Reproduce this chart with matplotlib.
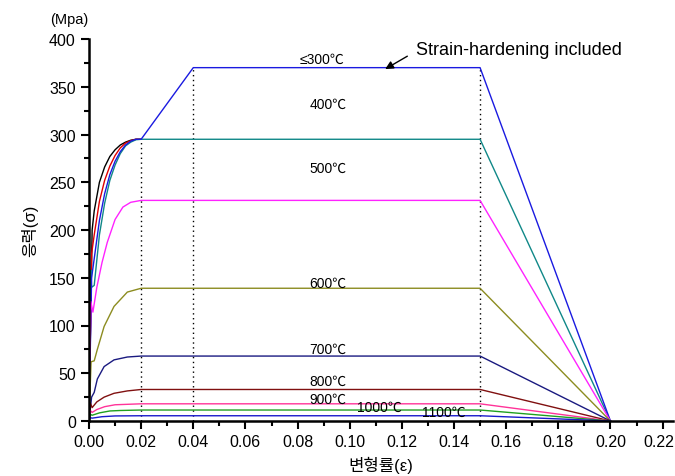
import matplotlib.pyplot as plt
from matplotlib.ticker import MultipleLocator

plt.rcParams['font.family'] = ['Liberation Sans', 'Noto Sans CJK KR', 'DejaVu Sans']

# 변형률-응력 데이터
x_black = [0, 0.0012, 0.002, 0.004, 0.006, 0.008, 0.010, 0.012, 0.014, 0.016, 0.018, 0.020]
y_black = [0, 200, 220, 250, 266, 277, 284, 289, 292, 294, 295, 295]

x_red = [0, 0.001, 0.002, 0.004, 0.006, 0.008, 0.010, 0.012, 0.014, 0.016, 0.018, 0.020]
y_red = [0, 175, 195, 230, 252, 267, 278, 286, 291, 293.5, 295, 295]

x_300 = [0, 0.001, 0.002, 0.004, 0.006, 0.008, 0.010, 0.012, 0.014, 0.016, 0.018, 0.020, 0.04, 0.15, 0.20]
y_300 = [0, 150, 170, 210, 238, 258, 272, 282, 289, 293, 295, 295, 370, 370, 0]

x_400 = [0, 0.0007, 0.001, 0.002, 0.004, 0.006, 0.008, 0.010, 0.012, 0.014, 0.016, 0.018, 0.020, 0.15, 0.20]
y_400 = [0, 158, 140, 142, 195, 228, 252, 268, 280, 288, 292, 294.5, 295, 295, 0]

x_500 = [0, 0.0007, 0.0015, 0.003, 0.005, 0.007, 0.010, 0.013, 0.016, 0.020, 0.15, 0.20]
y_500 = [0, 125, 114, 140, 166, 187, 211, 224, 229, 231, 231, 0]

x_600 = [0, 0.0008, 0.002, 0.0032, 0.0058, 0.0096, 0.0147, 0.020, 0.15, 0.20]
y_600 = [0, 62, 63, 75, 99, 120, 135, 139, 139, 0]

x_700 = [0, 0.001, 0.002, 0.0032, 0.0058, 0.0096, 0.0147, 0.020, 0.15, 0.20]
y_700 = [0, 25, 30, 44, 57, 64, 67, 68, 68, 0]

x_800 = [0, 0.0005, 0.0012, 0.003, 0.0058, 0.0096, 0.0147, 0.020, 0.15, 0.20]
y_800 = [0, 19, 14, 20, 25, 29, 31.5, 33, 33, 0]

x_900 = [0, 0.0005, 0.0012, 0.003, 0.006, 0.010, 0.020, 0.15, 0.20]
y_900 = [0, 11, 9, 12, 15, 17, 18, 18, 0]

x_1000 = [0, 0.0005, 0.0012, 0.004, 0.008, 0.012, 0.020, 0.15, 0.20]
y_1000 = [0, 7, 6, 8.5, 10.5, 11, 11.5, 11.5, 0]

x_1100 = [0, 0.0005, 0.0012, 0.005, 0.010, 0.020, 0.15, 0.20]
y_1100 = [0, 3.5, 3, 4.5, 5.3, 5.5, 5.5, 0]

labels = ['≤300℃', '400℃', '500℃', '600℃', '700℃', '800℃', '900℃', '1000℃', '1100℃']
label_x = [0.0895, 0.0917, 0.0917, 0.0917, 0.0917, 0.0917, 0.0917, 0.1115, 0.136]
label_y = [379, 332, 265, 145, 76, 42, 23, 14.7, 9.4]

x_ticks = [0, 0.02, 0.04, 0.06, 0.08, 0.10, 0.12, 0.14, 0.16, 0.18, 0.20, 0.22]
x_ticklabels = ['0.00', '0.02', '0.04', '0.06', '0.08', '0.10', '0.12', '0.14', '0.16', '0.18', '0.20', '0.22']

fig = plt.figure(figsize=(6.75, 4.77), dpi=100)
ax = fig.add_axes([89 / 675, 1 - 422 / 477, (673 - 89) / 675, (422 - 40) / 477])

# 점선 (기준 변형률)
ax.plot([0.02, 0.02], [0, 295], color='black', linestyle=(0, (1, 2.5)), linewidth=1)
ax.plot([0.04, 0.04], [0, 370], color='black', linestyle=(0, (1, 2.5)), linewidth=1)
ax.plot([0.15, 0.15], [0, 370], color='black', linestyle=(0, (1, 2.5)), linewidth=1)

lw = 1.0
ax.plot(x_black, y_black, color='black', linewidth=lw)
ax.plot(x_red, y_red, color='#e00000', linewidth=lw)
ax.plot(x_400, y_400, color='#108888', linewidth=lw)
ax.plot(x_300, y_300, color='#1a1ae0', linewidth=lw)
ax.plot(x_500, y_500, color='#ff22ff', linewidth=lw)
ax.plot(x_600, y_600, color='#8c8c20', linewidth=lw)
ax.plot(x_700, y_700, color='#1a1a80', linewidth=lw)
ax.plot(x_800, y_800, color='#801010', linewidth=lw)
ax.plot(x_900, y_900, color='#ff3399', linewidth=lw)
ax.plot(x_1000, y_1000, color='#20a020', linewidth=lw)
ax.plot(x_1100, y_1100, color='#1a1acc', linewidth=lw)

for t, lx, ly in zip(labels, label_x, label_y):
    ax.text(lx, ly, t, ha='center', va='center', fontsize=10)

ax.text(0.1255, 388.5, 'Strain-hardening included', fontsize=13, ha='left', va='center')
ax.annotate('', xy=(0.1136, 368.5), xytext=(0.1221, 382),
            arrowprops=dict(arrowstyle='-|>', color='black', lw=1, shrinkA=0, shrinkB=0,
                            mutation_scale=12))

ax.set_xlim(0, 0.224)
ax.set_ylim(0, 400)
ax.xaxis.set_minor_locator(MultipleLocator(0.01))
ax.yaxis.set_major_locator(MultipleLocator(50))
ax.yaxis.set_minor_locator(MultipleLocator(25))
ax.set_xticks(x_ticks)
# 마지막 라벨은 그림 가장자리에 걸리지 않도록 따로 붙임
ax.set_xticklabels(x_ticklabels[:-1] + [''])
ax.annotate(x_ticklabels[-1], xy=(x_ticks[-1], 0), xycoords=('data', 'axes fraction'),
            xytext=(-2.5, -9.5), textcoords='offset points', ha='center', va='top', fontsize=11.5)

ax.spines['top'].set_visible(False)
ax.spines['right'].set_visible(False)
ax.spines['left'].set_linewidth(1.8)
ax.spines['bottom'].set_linewidth(1.8)
ax.tick_params(which='major', direction='out', length=6, width=1.5, labelsize=11.5)
ax.tick_params(which='minor', direction='out', length=3.5, width=1.5)

ax.set_xlabel('변형률(ε)', fontsize=12, labelpad=5)
ax.set_ylabel('응력(σ)', fontsize=12, labelpad=8)
fig.text(69 / 675, 1 - 20 / 477, '(Mpa)', ha='center', va='center', fontsize=10.5)

plt.savefig('out.png', dpi=100)
